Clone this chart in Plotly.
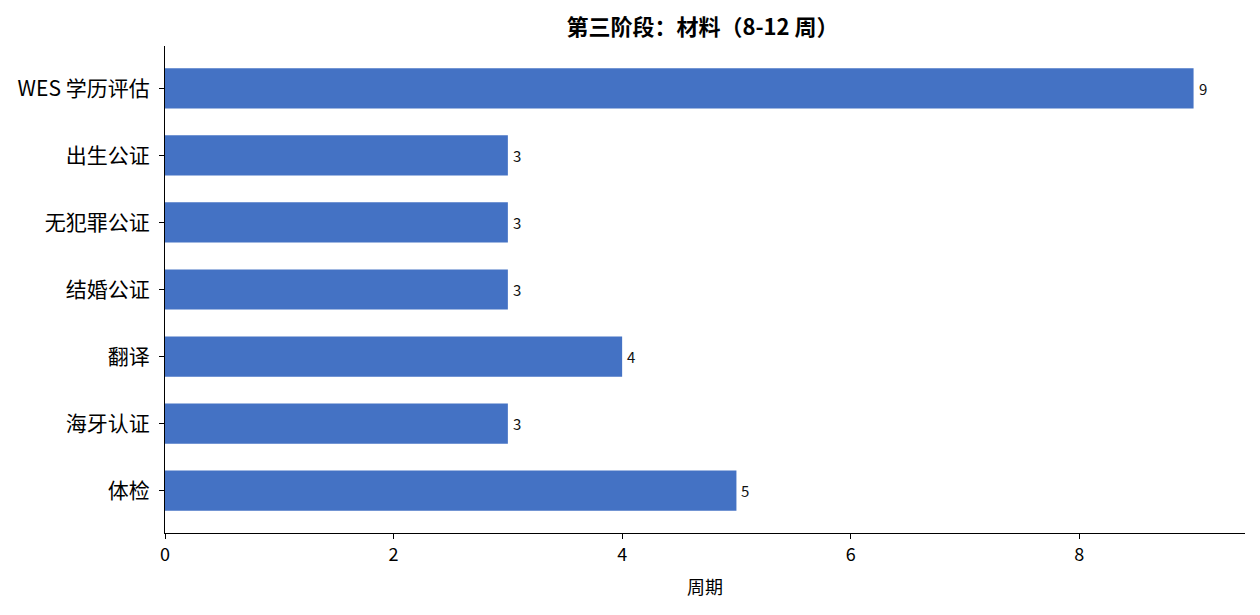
import plotly.graph_objects as go

categories = ["体检", "海牙认证", "翻译", "结婚公证", "无犯罪公证", "出生公证", "WES 学历评估"]
values = [5, 3, 4, 3, 3, 3, 9]
title_text = "第三阶段：材料（8-12 周）"
x_title = "周期"
x_ticks = [0, 2, 4, 6, 8]

FONT = "Noto Sans CJK SC, Microsoft YaHei, sans-serif"
BAR_COLOR = "#4472C4"

fig = go.Figure()
fig.add_trace(go.Bar(
    x=values,
    y=list(range(len(categories))),
    orientation="h",
    width=0.6,
    marker=dict(color=BAR_COLOR, line=dict(width=0)),
    hoverinfo="skip",
))

for i, v in enumerate(values):
    fig.add_annotation(
        x=v, y=i, text=str(v), showarrow=False,
        xanchor="left", yanchor="middle", xshift=3,
        font=dict(family=FONT, size=15, color="#111111"),
    )

fig.update_layout(
    width=1260, height=615,
    margin=dict(l=165, r=15, t=46, b=82),
    paper_bgcolor="white", plot_bgcolor="white",
    showlegend=False,
    title=dict(
        text="<b>" + title_text + "</b>",
        x=(165 + 1245) / 2 / 1260 - 0.002, xanchor="center",
        y=1 - 27 / 615, yanchor="middle",
        font=dict(family=FONT, size=22, color="black"),
    ),
    xaxis=dict(
        range=[0, 9.45],
        tickvals=x_ticks,
        ticktext=[str(t) for t in x_ticks],
        showgrid=False, zeroline=False,
        showline=True, linecolor="black", linewidth=1.3,
        ticks="outside", ticklen=5, tickwidth=1.2, tickcolor="black",
        tickfont=dict(family=FONT, size=18, color="black"),
        title=dict(text=x_title, font=dict(family=FONT, size=18, color="black"), standoff=16),
    ),
    yaxis=dict(
        range=[-0.63, 6.63],
        tickvals=list(range(len(categories))),
        ticktext=categories,
        showgrid=False, zeroline=False,
        showline=True, linecolor="black", linewidth=1.3,
        ticks="outside", ticklen=5, tickwidth=1.2, tickcolor="black",
        ticklabelstandoff=5,
        tickfont=dict(family=FONT, size=21, color="black"),
    ),
)

fig.write_html("out.html", config={"displayModeBar": False},
               post_script="document.body.style.margin='0';")
